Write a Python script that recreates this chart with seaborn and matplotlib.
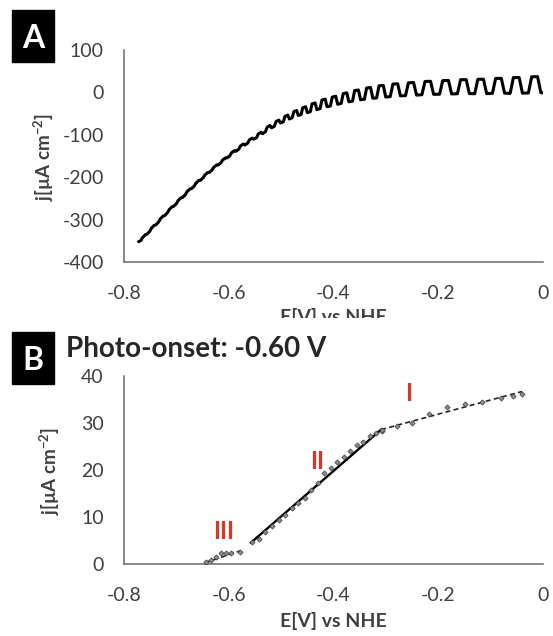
import numpy as np
import pandas as pd
import matplotlib
matplotlib.use("Agg")
import matplotlib.pyplot as plt
import seaborn as sns
from matplotlib.patches import Rectangle
from matplotlib.transforms import Bbox, TransformedBbox

# ---------------- data: panel A (chopped-light scan) ----------------
a_start_x = -0.772
a_start_y = -352.0
a_end_x = 0.0
a_end_y = -1.0
pulse_x = [-0.762, -0.745, -0.728, -0.711, -0.694, -0.677, -0.660, -0.643,
           -0.626, -0.609, -0.592, -0.575, -0.558, -0.541, -0.524, -0.507,
           -0.490, -0.473, -0.456, -0.438, -0.419, -0.399, -0.378, -0.356,
           -0.333, -0.309, -0.282, -0.252, -0.220, -0.186, -0.152, -0.119,
           -0.085, -0.051, -0.016]
dark_j = [-342, -320, -298, -276, -255, -234, -214, -195,
          -177, -160, -144, -129, -115, -102, -88, -76,
          -66, -57, -50, -43, -36, -30, -24, -19,
          -15, -12, -9, -7, -5, -4, -3, -3,
          -2, -2, -1]
light_j = [-339, -317, -295, -273, -252, -231, -211, -192,
           -174, -157, -140, -124, -110, -96, -80, -67,
           -55, -44, -35, -26, -17, -10, -2, 5,
           11, 16, 20, 23, 26, 28, 30, 31,
           33, 35, 37]

# ---------------- data: panel B (photocurrent) ----------------
b3_x = [-0.643, -0.633, -0.624, -0.614, -0.605, -0.595, -0.579]
b3_y = [0.5, 0.8, 1.5, 2.3, 2.4, 2.3, 2.6]
b2_x = [-0.555, -0.542, -0.530, -0.518, -0.505, -0.493, -0.480, -0.468,
        -0.455, -0.443, -0.430, -0.418, -0.405, -0.393, -0.380, -0.368,
        -0.355, -0.343, -0.330, -0.318, -0.308]
b2_y = [4.6, 5.4, 6.9, 8.0, 9.4, 10.5, 11.9, 13.0,
        14.0, 15.7, 17.2, 19.3, 20.4, 21.7, 22.8, 24.0,
        25.3, 26.0, 27.2, 27.9, 28.3]
b1_x = [-0.307, -0.279, -0.250, -0.218, -0.183, -0.148, -0.116, -0.081, -0.058, -0.040]
b1_y = [28.5, 29.3, 30.0, 32.0, 33.3, 34.1, 34.4, 35.4, 35.8, 36.2]
fit3_x = [-0.645, -0.578]
fit3_y = [0.3, 2.8]
fit2_x = [-0.558, -0.309]
fit2_y = [4.5, 28.6]
fit1_x = [-0.309, -0.040]
fit1_y = [28.6, 36.7]
region_names = ["I", "II", "III"]
region_x = [-0.256, -0.432, -0.610]
region_y = [36.3, 21.9, 7.0]

x_ticks = [-0.8, -0.6, -0.4, -0.2, 0.0]
x_tick_labels = ["-0.8", "-0.6", "-0.4", "-0.2", "0"]
a_y_ticks = [100, 0, -100, -200, -300, -400]
b_y_ticks = [0, 10, 20, 30, 40]

# ---------------- build chopped path from the typed values ----------------
px = np.array(pulse_x, float)
d = np.array(dark_j, float)
l = np.array(light_j, float)
period = np.gradient(px)
slope = np.gradient(d, px)
q = period / 4.0
r = period * 0.09
xs = [a_start_x]
ys = [a_start_y]
for i in range(len(px)):
    c, s = px[i], slope[i]
    xs += [c - q[i] - r[i], c - q[i] + r[i], c + q[i] - r[i], c + q[i] + r[i]]
    ys += [d[i] - s * (q[i] + r[i]), l[i] - s * (q[i] - r[i]),
           l[i] + s * (q[i] - r[i]), d[i] + s * (q[i] + r[i])]
xs.append(a_end_x)
ys.append(a_end_y)
dfA = pd.DataFrame({"E": xs, "j": ys})

# ---------------- figure ----------------
sns.set_theme(style="white")
plt.rcParams["font.family"] = ["Lato", "DejaVu Sans"]
plt.rcParams["mathtext.fontset"] = "custom"
plt.rcParams["mathtext.rm"] = "Lato"
plt.rcParams["mathtext.bf"] = "Lato:bold"

W, H = 553, 636
fig = plt.figure(figsize=(W / 100, H / 100), dpi=100)
ax_left, ax_right = 124, 543
axA = fig.add_axes([ax_left / W, 1 - 262 / H, (ax_right - ax_left) / W, 212 / H])
axB = fig.add_axes([ax_left / W, 1 - 564 / H, (ax_right - ax_left) / W, 188 / H])

axis_col = "#6a6a6a"
text_col = "#404040"

for ax in (axA, axB):
    for sp in ("top", "right"):
        ax.spines[sp].set_visible(False)
    for sp in ("left", "bottom"):
        ax.spines[sp].set_color(axis_col)
        ax.spines[sp].set_linewidth(1.1)
    ax.set_xlim(-0.8, 0.0)
    ax.set_xticks(x_ticks)
    ax.set_xticklabels(x_tick_labels)
    ax.tick_params(axis="both", direction="out", length=4.5, width=1.1,
                   color=axis_col, labelcolor=text_col, labelsize=14)
    ax.tick_params(axis="x", pad=12)
    ax.tick_params(axis="y", pad=10)
    ax.set_facecolor("none")

ylab = r"j[µA cm$^{\mathbf{-2}}$]"

# Panel A
sns.lineplot(data=dfA, x="E", y="j", sort=False, estimator=None, ax=axA,
             color="black", linewidth=2.2, solid_joinstyle="round")
axA.set_ylim(-400, 100)
axA.set_yticks(a_y_ticks)
axA.set_yticklabels([str(v) for v in a_y_ticks])
axA.set_xlabel("")
axA.set_ylabel(ylab, fontsize=13.5, color=text_col, fontweight="bold")
axA.yaxis.set_label_coords((44 - ax_left) / (ax_right - ax_left), (262 - 157) / 212)
axA.yaxis.label.set_va("center")

# Panel B
sns.lineplot(x=fit2_x, y=fit2_y, ax=axB, color="black", linewidth=1.7)
sns.lineplot(x=fit1_x, y=fit1_y, ax=axB, color="#222222", linewidth=1.2,
             linestyle=(0, (3, 2)))
sns.lineplot(x=fit3_x, y=fit3_y, ax=axB, color="#222222", linewidth=1.2,
             linestyle=(0, (3, 2)))
for bx, by in ((b3_x, b3_y), (b2_x, b2_y), (b1_x, b1_y)):
    sns.scatterplot(x=bx, y=by, ax=axB, marker="D", s=7, color="#8c8c8c",
                    edgecolor="#3a3a3a", linewidth=0.5, zorder=3)
for name, rx, ry in zip(region_names, region_x, region_y):
    axB.text(rx, ry, name, color="#d2382c", fontsize=17, fontweight="bold",
             ha="center", va="center")
axB.set_ylim(0, 40)
axB.set_yticks(b_y_ticks)
axB.set_yticklabels([str(v) for v in b_y_ticks])
axB.set_xlabel("E[V] vs NHE", fontsize=14, fontweight="bold", color=text_col, labelpad=6)
axB.set_ylabel(ylab, fontsize=13.5, color=text_col, fontweight="bold")
axB.yaxis.set_label_coords((50 - ax_left) / (ax_right - ax_left), (564 - 471) / 188)
axB.yaxis.label.set_va("center")

# Clipped x label of panel A
tA = fig.text(333.5 / W, 1 - 317 / H, "E[V] vs NHE", fontsize=14, fontweight="bold",
              color=text_col, ha="center", va="center")
tA.set_clip_box(TransformedBbox(Bbox([[0, 1 - 318 / H], [1, 1]]), fig.transFigure))
tA.set_clip_on(True)

# Panel badges
for lab, top in (("A", 10), ("B", 332)):
    fig.patches.append(Rectangle((12 / W, 1 - (top + 52) / H), 42 / W, 52 / H,
                                 transform=fig.transFigure, color="black", zorder=1))
    fig.text(33 / W, 1 - (top + 28) / H, lab, color="white", fontsize=23,
             fontweight="bold", ha="center", va="center")

fig.text(66 / W, 1 - 357 / H, "Photo-onset: -0.60 V", fontsize=20,
         fontweight="bold", color="#262626", ha="left", va="baseline")

fig.savefig("out.png", dpi=100)
